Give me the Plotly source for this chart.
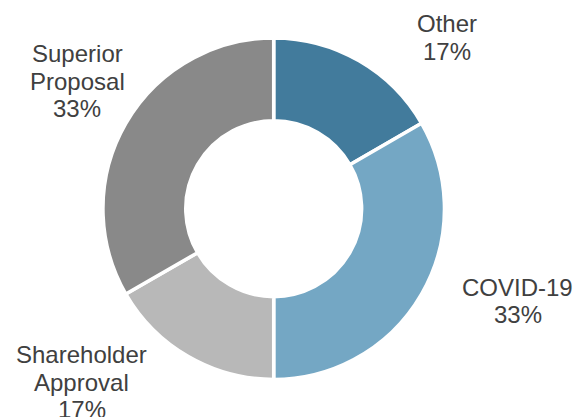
import plotly.graph_objects as go

categories = ["Other", "COVID-19", "Shareholder Approval", "Superior Proposal"]
label_lines = [["Other"], ["COVID-19"], ["Shareholder", "Approval"], ["Superior", "Proposal"]]
values = [1, 2, 1, 2]
colors = ["#427B9C", "#74A7C4", "#B8B8B8", "#898989"]

W, H = 574, 417
# label block positions in pixels: x centre, y centre of first line
label_px = [(446.5, 23.5), (517.5, 287.0), (81.5, 354.5), (77.0, 53.5)]
line_gap = 27.5

total = sum(values)
cx, cy, r = 273.7, 208.7, 170.75
fig = go.Figure(go.Pie(
    labels=categories,
    values=values,
    hole=0.515,
    sort=False,
    direction="clockwise",
    rotation=0,
    marker=dict(colors=colors, line=dict(color="white", width=3.5)),
    textinfo="none",
    hoverinfo="label+percent",
    domain=dict(x=[(cx - r) / W, (cx + r) / W], y=[1 - (cy + r) / H, 1 - (cy - r) / H]),
    showlegend=False,
))

for lines, v, (px, py) in zip(label_lines, values, label_px):
    all_lines = lines + [f"{round(100 * v / total)}%"]
    for i, t in enumerate(all_lines):
        fig.add_annotation(
            x=px / W, y=1 - (py + i * line_gap) / H, xref="paper", yref="paper",
            text=t, showarrow=False, xanchor="center", yanchor="middle",
            font=dict(family="Liberation Sans, Arial", size=24, color="#404040"),
        )

fig.update_layout(
    width=W, height=H,
    margin=dict(l=0, r=0, t=0, b=0),
    paper_bgcolor="white", plot_bgcolor="white",
)
fig.write_html("out.html", config={"displayModeBar": False},
               post_script="document.body.style.margin='0';")
